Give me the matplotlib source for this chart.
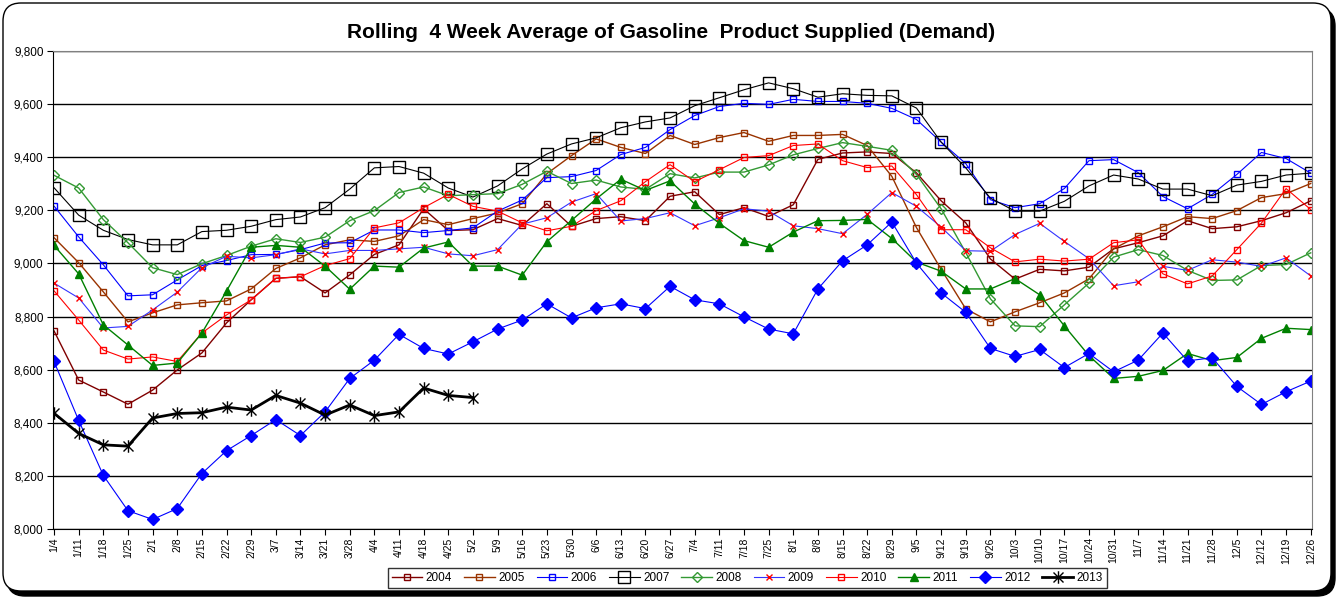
import matplotlib.pyplot as plt
from matplotlib.patches import FancyBboxPatch
from matplotlib.path import Path
from matplotlib.ticker import FuncFormatter, MultipleLocator

plt.rcParams['font.family'] = ['Liberation Sans', 'DejaVu Sans']

weeks = ["1/4", "1/11", "1/18", "1/25", "2/1", "2/8", "2/15", "2/22", "2/29", "3/7",
         "3/14", "3/21", "3/28", "4/4", "4/11", "4/18", "4/25", "5/2", "5/9", "5/16",
         "5/23", "5/30", "6/6", "6/13", "6/20", "6/27", "7/4", "7/11", "7/18", "7/25",
         "8/1", "8/8", "8/15", "8/22", "8/29", "9/5", "9/12", "9/19", "9/26", "10/3",
         "10/10", "10/17", "10/24", "10/31", "11/7", "11/14", "11/21", "11/28", "12/5",
         "12/12", "12/19", "12/26"]

v2004 = [8746, 8561, 8516, 8470, 8523, 8599, 8663, 8776, 8863, 8944, 8950, 8889, 8957,
         9034, 9070, 9206, 9124, 9127, 9169, 9143, 9225, 9140, 9169, 9176, 9161, 9253,
         9270, 9184, 9210, 9177, 9221, 9392, 9416, 9420, 9414, 9341, 9236, 9153, 9017,
         8941, 8978, 8972, 8986, 9055, 9078, 9104, 9161, 9131, 9138, 9161, 9191, 9236]
v2005 = [9097, 9003, 8893, 8780, 8814, 8844, 8852, 8859, 8904, 8981, 9021, 9070, 9089,
         9083, 9104, 9165, 9146, 9169, 9190, 9225, 9338, 9406, 9469, 9437, 9414, 9482,
         9448, 9474, 9493, 9460, 9482, 9482, 9486, 9444, 9328, 9135, 8978, 8829, 8780,
         8818, 8852, 8889, 8942, 9055, 9104, 9138, 9176, 9169, 9199, 9248, 9263, 9301]
v2006 = [9216, 9100, 8995, 8878, 8882, 8938, 8992, 9011, 9033, 9034, 9052, 9077, 9078,
         9126, 9126, 9116, 9124, 9134, 9197, 9239, 9323, 9327, 9350, 9410, 9437, 9504,
         9557, 9591, 9603, 9599, 9618, 9610, 9610, 9603, 9584, 9542, 9457, 9376, 9240,
         9210, 9225, 9282, 9387, 9391, 9342, 9252, 9206, 9260, 9335, 9418, 9395, 9340]
v2007 = [9285, 9182, 9125, 9090, 9070, 9070, 9120, 9125, 9140, 9165, 9175, 9210, 9280,
         9360, 9365, 9340, 9284, 9250, 9292, 9356, 9412, 9450, 9473, 9511, 9533, 9548,
         9594, 9624, 9654, 9680, 9658, 9626, 9639, 9633, 9631, 9585, 9457, 9360, 9246,
         9197, 9197, 9234, 9292, 9333, 9318, 9280, 9280, 9255, 9295, 9309, 9333, 9340]
v2008 = [9332, 9284, 9165, 9078, 8984, 8958, 8999, 9030, 9065, 9093, 9079, 9099, 9161,
         9199, 9267, 9288, 9255, 9259, 9263, 9298, 9347, 9301, 9314, 9288, 9279, 9338,
         9322, 9344, 9344, 9371, 9409, 9433, 9455, 9441, 9426, 9335, 9206, 9041, 8867,
         8765, 8762, 8844, 8926, 9024, 9052, 9030, 8974, 8936, 8938, 8992, 8996, 9040]
v2009 = [8926, 8870, 8757, 8763, 8825, 8892, 8984, 9027, 9021, 9033, 9055, 9036, 9049,
         9049, 9055, 9061, 9036, 9029, 9052, 9148, 9172, 9231, 9263, 9160, 9169, 9191,
         9142, 9172, 9206, 9197, 9142, 9131, 9112, 9185, 9267, 9215, 9137, 9048, 9046,
         9109, 9151, 9083, 9018, 8916, 8931, 8989, 8974, 9014, 9005, 8989, 9021, 8953]
v2010 = [8897, 8787, 8674, 8640, 8648, 8631, 8738, 8806, 8863, 8944, 8950, 8992, 9018,
         9134, 9153, 9210, 9260, 9215, 9197, 9153, 9123, 9140, 9199, 9236, 9308, 9372,
         9308, 9353, 9399, 9406, 9444, 9450, 9387, 9361, 9367, 9259, 9127, 9127, 9059,
         9006, 9016, 9009, 9016, 9078, 9089, 8961, 8923, 8953, 9052, 9152, 9282, 9203]
v2011 = [9068, 8961, 8769, 8693, 8616, 8625, 8738, 8896, 9061, 9068, 9061, 8990, 8903,
         8990, 8986, 9058, 9081, 8990, 8990, 8956, 9082, 9162, 9243, 9317, 9275, 9311,
         9224, 9151, 9086, 9061, 9118, 9161, 9162, 9166, 9094, 9005, 8971, 8904, 8904,
         8943, 8882, 8765, 8653, 8567, 8575, 8597, 8661, 8634, 8646, 8718, 8756, 8751]
v2012 = [8631, 8409, 8202, 8069, 8036, 8077, 8209, 8295, 8352, 8412, 8352, 8441, 8567,
         8636, 8733, 8680, 8659, 8705, 8753, 8787, 8848, 8795, 8833, 8848, 8830, 8914,
         8863, 8848, 8799, 8753, 8735, 8904, 9010, 9070, 9156, 9001, 8889, 8816, 8680,
         8650, 8676, 8608, 8661, 8592, 8636, 8738, 8633, 8645, 8537, 8469, 8517, 8557]
v2013 = [8436, 8360, 8317, 8312, 8418, 8435, 8438, 8459, 8448, 8503, 8474, 8429, 8467,
         8427, 8441, 8531, 8503, 8495]

# excel style star: vertical bar plus an x
star = Path([(0, -1), (0, 1), (-0.8, -0.8), (0.8, 0.8), (-0.8, 0.8), (0.8, -0.8)],
            [Path.MOVETO, Path.LINETO, Path.MOVETO, Path.LINETO, Path.MOVETO, Path.LINETO])

series = [
    ("2004", v2004, dict(color="#800000", marker="s", ms=4, mfc="none", mec="#800000", lw=1)),
    ("2005", v2005, dict(color="#993300", marker="s", ms=4, mfc="none", mec="#993300", lw=1)),
    ("2006", v2006, dict(color="#0000FF", marker="s", ms=4, mfc="none", mec="#0000FF", lw=0.8)),
    ("2007", v2007, dict(color="#000000", marker="s", ms=8, mfc="none", mec="#000000", lw=0.8)),
    ("2008", v2008, dict(color="#339933", marker="D", ms=5.5, mfc="none", mec="#339933", lw=1)),
    ("2009", v2009, dict(color="#3333FF", marker="x", ms=4.5, mec="#FF0000", lw=0.8)),
    ("2010", v2010, dict(color="#FF0000", marker="s", ms=4, mfc="none", mec="#FF0000", lw=0.8)),
    ("2011", v2011, dict(color="#008000", marker="^", ms=6, mfc="#008000", mec="#008000", lw=1)),
    ("2012", v2012, dict(color="#0000FF", marker="D", ms=6, mfc="#0000FF", mec="#0000FF", lw=0.8)),
    ("2013", v2013, dict(color="#000000", marker=star, ms=9, mec="#000000", mew=1, lw=2)),
]

fig = plt.figure(figsize=(13.39, 6), dpi=100)

# rounded chart frame with shadow
shadow = FancyBboxPatch((0.07, 0.04), 13.28, 5.88, boxstyle="round,pad=0,rounding_size=0.18",
                        transform=fig.dpi_scale_trans, fc="black", ec="black", zorder=-2)
frame = FancyBboxPatch((0.03, 0.09), 13.28, 5.88, boxstyle="round,pad=0,rounding_size=0.18",
                       transform=fig.dpi_scale_trans, fc="white", ec="black", lw=1, zorder=-1)
fig.add_artist(shadow)
fig.add_artist(frame)

ax = fig.add_axes([0.0398, 0.1183, 0.9402, 0.7967])
ax.set_facecolor("none")

x = list(range(len(weeks)))
for name, vals, style in series:
    ax.plot(x[:len(vals)], vals, label=name, **style)

ax.set_xlim(-0.03, 51.06)
ax.set_ylim(8000, 9800)
ax.yaxis.set_major_locator(MultipleLocator(200))
ax.yaxis.set_major_formatter(FuncFormatter(lambda v, p: f"{int(v):,}"))
ax.grid(axis="y", color="black", lw=1)
ax.set_axisbelow(True)

ax.set_xticks(x)
ax.set_xticklabels(weeks, rotation=90, fontsize=7.5)
ax.tick_params(axis="y", labelsize=8.5, length=4, direction="out", pad=3)
ax.tick_params(axis="x", length=4, direction="out", pad=2)

ax.spines["left"].set_color("black")
ax.spines["bottom"].set_color("black")
ax.spines["top"].set_color("#808080")
ax.spines["right"].set_color("#808080")

fig.text(0.501, 0.945, "Rolling  4 Week Average of Gasoline  Product Supplied (Demand)",
         ha="center", va="center", fontsize=15, fontweight="bold")

leg = fig.legend(loc="upper center", bbox_to_anchor=(0.558, 0.063), ncol=10, fontsize=8.5,
                 frameon=True, fancybox=False, edgecolor="black", handlelength=2.6,
                 columnspacing=1.0, handletextpad=0.3, borderpad=0.35)
leg.get_frame().set_linewidth(1)

fig.savefig("out.png", dpi=100)
plt.close()
